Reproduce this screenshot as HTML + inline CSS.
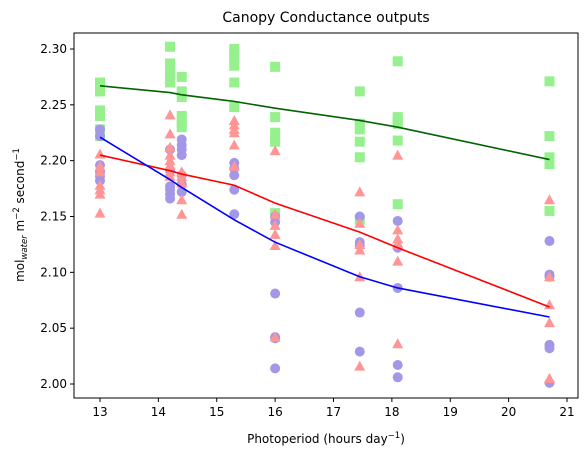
<!DOCTYPE html>
<html><head><meta charset="utf-8"><style>
body{margin:0;background:#fff;font-family:"DejaVu Sans","Liberation Sans",sans-serif}
svg{display:block}
</style></head><body>
<svg id="chart" width="587" height="460" xmlns="http://www.w3.org/2000/svg" font-family="DejaVu Sans, Liberation Sans, sans-serif"></svg>
<script>
const xCats=[13,14.2,14.4,15.3,16,17.45,18.1,20.7];
const greenVals=[[2.270,2.262,2.245,2.240,2.228,2.222],[2.302,2.287,2.280,2.275,2.270],[2.275,2.262,2.257,2.240,2.235,2.230],[2.300,2.296,2.292,2.285,2.270,2.248],[2.284,2.239,2.225,2.220,2.217,2.153],[2.262,2.233,2.228,2.217,2.203,2.147],[2.289,2.239,2.236,2.233,2.218,2.161],[2.271,2.222,2.203,2.197,2.155]];
const redVals=[[2.206,2.195,2.190,2.178,2.174,2.170,2.153],[2.241,2.224,2.212,2.205,2.200,2.196,2.190,2.186],[2.190,2.186,2.180,2.165,2.152],[2.236,2.232,2.228,2.225,2.214,2.195],[2.209,2.152,2.142,2.134,2.124,2.042],[2.172,2.144,2.125,2.120,2.096,2.016],[2.205,2.138,2.130,2.125,2.110,2.036],[2.165,2.096,2.071,2.055,2.005]];
const blueVals=[[2.228,2.222,2.196,2.190,2.186,2.182],[2.210,2.191,2.177,2.174,2.170,2.166],[2.219,2.214,2.210,2.205,2.187,2.179,2.172],[2.198,2.193,2.187,2.174,2.152],[2.150,2.145,2.081,2.042,2.041,2.014],[2.150,2.127,2.124,2.064,2.029],[2.146,2.122,2.086,2.017,2.006],[2.128,2.098,2.096,2.035,2.032,2.001]];
const greenFit=[2.267,2.261,2.259,2.253,2.247,2.236,2.230,2.201];
const redFit=[2.205,2.191,2.188,2.178,2.162,2.136,2.122,2.069];
const blueFit=[2.221,2.183,2.176,2.147,2.127,2.096,2.086,2.060];
const xTicks=[13,14,15,16,17,18,19,20,21];
const yTicks=[2.00,2.05,2.10,2.15,2.20,2.25,2.30];

const NS="http://www.w3.org/2000/svg";
const svg=document.getElementById('chart');
const L=74,R=578,T=33,B=398;
function X(v){return 100+(v-13)*58.375;}
function Y(v){return 384-(v-2.0)*1116.7;}
function el(tag,attrs,parent){const e=document.createElementNS(NS,tag);for(const k in attrs)e.setAttribute(k,attrs[k]);(parent||svg).appendChild(e);return e;}

const title=el('text',{x:(L+R)/2,y:22,'text-anchor':'middle','font-size':14,fill:'#000'});
title.textContent='Canopy Conductance outputs';



const gPts=el('g',{});


xCats.forEach((x,i)=>greenVals[i].forEach(v=>{
  const r=el('rect',{x:X(x)-5,y:Y(v)-5,width:10,height:10,fill:'#96f08e'},gPts);
  
  
}));
const bPts=el('g',{});


xCats.forEach((x,i)=>blueVals[i].forEach(v=>{
  const c=el('circle',{cx:X(x),cy:Y(v),r:5,fill:'#a397e8'},bPts);
  
  
}));
const rPts=el('g',{});


xCats.forEach((x,i)=>redVals[i].forEach(v=>{
  const cx=X(x),cy=Y(v);
  const p=el('polygon',{points:`${cx},${cy-5.5} ${cx-5.5},${cy+4.5} ${cx+5.5},${cy+4.5}`,fill:'#ff9595'},rPts);
  
  
}));

function line(vals,color,name){
  const p=el('polyline',{points:xCats.map((x,i)=>X(x)+','+Y(vals[i])).join(' '),fill:'none',stroke:color,'stroke-width':1.6});
  
  
}
line(greenFit,'#006400','green-fit-line');
line(redFit,'#ff0000','red-fit-line');
line(blueFit,'#0000ff','blue-fit-line');

const frame=el('rect',{x:L,y:T,width:R-L,height:B-T,fill:'none',stroke:'#000','stroke-width':1});



xTicks.forEach(t=>{
  el('line',{x1:X(t),x2:X(t),y1:B,y2:B+4,stroke:'#000'});
  const tx=el('text',{x:X(t),y:B+18,'text-anchor':'middle','font-size':12});
  tx.textContent=t;
  
  
});
yTicks.forEach(t=>{
  el('line',{x1:L-4,x2:L,y1:Y(t),y2:Y(t),stroke:'#000'});
  const tx=el('text',{x:L-7,y:Y(t)+4,'text-anchor':'end','font-size':12});
  tx.textContent=t.toFixed(2);
  
  
});
</script>
<svg style="position:absolute;left:0;top:0" width="587" height="460" xmlns="http://www.w3.org/2000/svg">
<text x="326" y="443" text-anchor="middle" font-size="12" font-family="DejaVu Sans, Liberation Sans, sans-serif">Photoperiod (hours day<tspan dy="-5" font-size="8.5">−1</tspan><tspan dy="5">)</tspan></text>
<text transform="translate(24,215) rotate(-90)" text-anchor="middle" font-size="12" font-family="DejaVu Sans, Liberation Sans, sans-serif">mol<tspan dy="3" font-size="8.5" font-style="italic">water</tspan><tspan dy="-3"> m</tspan><tspan dy="-5" font-size="8.5">−2</tspan><tspan dy="5"> second</tspan><tspan dy="-5" font-size="8.5">−1</tspan></text>
</svg>
</body></html>
